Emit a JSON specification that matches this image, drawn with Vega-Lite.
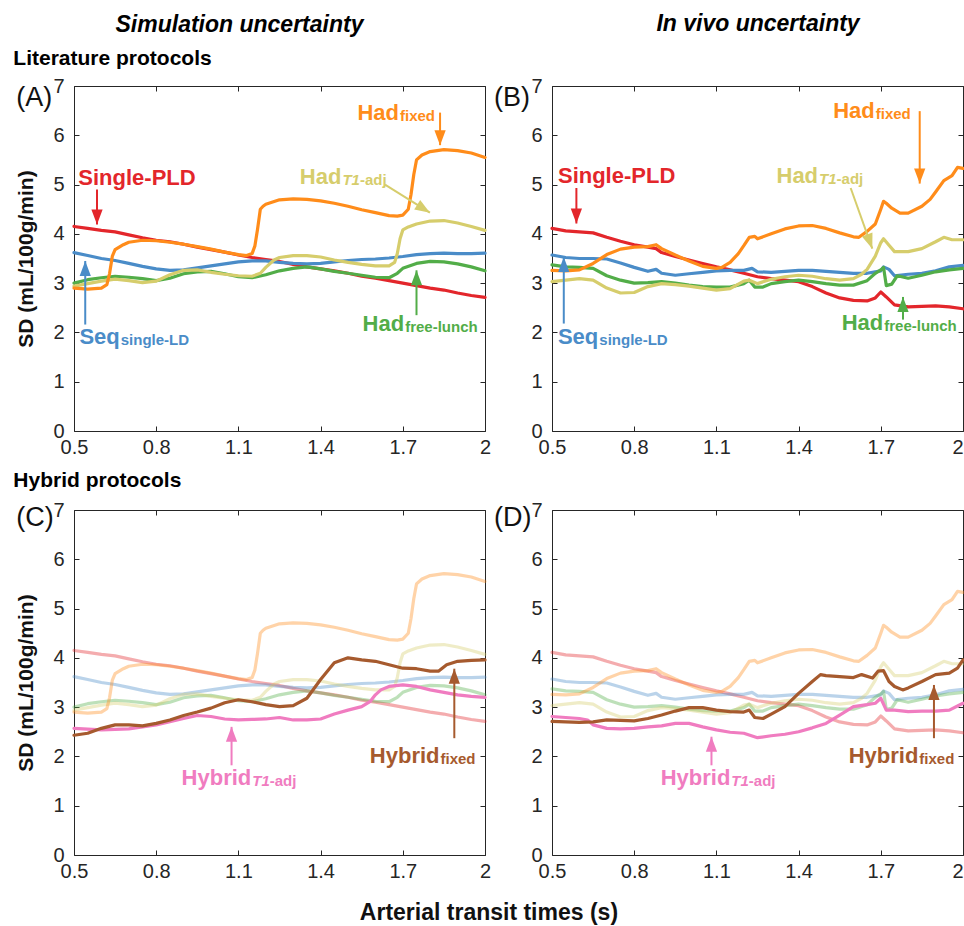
{
"$schema": "https://vega.github.io/schema/vega-lite/v6.json",
"background": "white",
"padding": {"left": 12, "top": 12, "right": 2, "bottom": 2},
"title": {"text": "Arterial transit times (s)", "orient": "bottom", "anchor": "middle", "fontSize": 23, "fontWeight": "bold", "font": "Liberation Sans", "color": "#111111", "offset": 20},
"config": {
  "font": "Liberation Sans",
  "view": {"stroke": "#262626", "strokeWidth": 1},
  "axis": {"grid": false, "domain": false, "tickSize": -5, "tickColor": "#262626", "tickWidth": 1, "labelColor": "#262626", "labelFontSize": 20, "labelFont": "Liberation Sans", "titleFont": "Liberation Sans", "titleFontSize": 21, "titleFontWeight": "bold", "titleColor": "#111111"}
},
"datasets": {
"curves": [
{"panel":"A","series":"Single-PLD","t":0.5,"v":4.15},{"panel":"A","series":"Single-PLD","t":0.55,"v":4.11},{"panel":"A","series":"Single-PLD","t":0.6,"v":4.07},{"panel":"A","series":"Single-PLD","t":0.65,"v":4.04},{"panel":"A","series":"Single-PLD","t":0.7,"v":3.98},{"panel":"A","series":"Single-PLD","t":0.75,"v":3.92},{"panel":"A","series":"Single-PLD","t":0.8,"v":3.87},{"panel":"A","series":"Single-PLD","t":0.85,"v":3.84},{"panel":"A","series":"Single-PLD","t":0.9,"v":3.79},{"panel":"A","series":"Single-PLD","t":0.95,"v":3.73},{"panel":"A","series":"Single-PLD","t":1.0,"v":3.68},{"panel":"A","series":"Single-PLD","t":1.05,"v":3.63},{"panel":"A","series":"Single-PLD","t":1.1,"v":3.57},{"panel":"A","series":"Single-PLD","t":1.15,"v":3.52},{"panel":"A","series":"Single-PLD","t":1.2,"v":3.48},{"panel":"A","series":"Single-PLD","t":1.25,"v":3.44},{"panel":"A","series":"Single-PLD","t":1.3,"v":3.38},{"panel":"A","series":"Single-PLD","t":1.35,"v":3.33},{"panel":"A","series":"Single-PLD","t":1.4,"v":3.29},{"panel":"A","series":"Single-PLD","t":1.45,"v":3.25},{"panel":"A","series":"Single-PLD","t":1.5,"v":3.2},{"panel":"A","series":"Single-PLD","t":1.55,"v":3.14},{"panel":"A","series":"Single-PLD","t":1.6,"v":3.1},{"panel":"A","series":"Single-PLD","t":1.65,"v":3.05},{"panel":"A","series":"Single-PLD","t":1.7,"v":3.0},{"panel":"A","series":"Single-PLD","t":1.75,"v":2.95},{"panel":"A","series":"Single-PLD","t":1.8,"v":2.9},{"panel":"A","series":"Single-PLD","t":1.85,"v":2.86},{"panel":"A","series":"Single-PLD","t":1.9,"v":2.8},{"panel":"A","series":"Single-PLD","t":1.95,"v":2.75},{"panel":"A","series":"Single-PLD","t":2.0,"v":2.71},
{"panel":"A","series":"Seq","t":0.5,"v":3.62},{"panel":"A","series":"Seq","t":0.55,"v":3.56},{"panel":"A","series":"Seq","t":0.6,"v":3.5},{"panel":"A","series":"Seq","t":0.65,"v":3.46},{"panel":"A","series":"Seq","t":0.7,"v":3.4},{"panel":"A","series":"Seq","t":0.75,"v":3.34},{"panel":"A","series":"Seq","t":0.8,"v":3.29},{"panel":"A","series":"Seq","t":0.85,"v":3.26},{"panel":"A","series":"Seq","t":0.9,"v":3.27},{"panel":"A","series":"Seq","t":0.95,"v":3.31},{"panel":"A","series":"Seq","t":1.0,"v":3.35},{"panel":"A","series":"Seq","t":1.05,"v":3.39},{"panel":"A","series":"Seq","t":1.1,"v":3.43},{"panel":"A","series":"Seq","t":1.15,"v":3.45},{"panel":"A","series":"Seq","t":1.2,"v":3.45},{"panel":"A","series":"Seq","t":1.25,"v":3.42},{"panel":"A","series":"Seq","t":1.3,"v":3.4},{"panel":"A","series":"Seq","t":1.35,"v":3.39},{"panel":"A","series":"Seq","t":1.4,"v":3.4},{"panel":"A","series":"Seq","t":1.45,"v":3.43},{"panel":"A","series":"Seq","t":1.5,"v":3.46},{"panel":"A","series":"Seq","t":1.55,"v":3.48},{"panel":"A","series":"Seq","t":1.6,"v":3.49},{"panel":"A","series":"Seq","t":1.65,"v":3.51},{"panel":"A","series":"Seq","t":1.7,"v":3.54},{"panel":"A","series":"Seq","t":1.75,"v":3.58},{"panel":"A","series":"Seq","t":1.8,"v":3.6},{"panel":"A","series":"Seq","t":1.85,"v":3.61},{"panel":"A","series":"Seq","t":1.9,"v":3.6},{"panel":"A","series":"Seq","t":1.95,"v":3.6},{"panel":"A","series":"Seq","t":2.0,"v":3.61},
{"panel":"A","series":"Had_free","t":0.5,"v":3.0},{"panel":"A","series":"Had_free","t":0.55,"v":3.07},{"panel":"A","series":"Had_free","t":0.6,"v":3.11},{"panel":"A","series":"Had_free","t":0.65,"v":3.14},{"panel":"A","series":"Had_free","t":0.7,"v":3.12},{"panel":"A","series":"Had_free","t":0.75,"v":3.09},{"panel":"A","series":"Had_free","t":0.8,"v":3.05},{"panel":"A","series":"Had_free","t":0.85,"v":3.1},{"panel":"A","series":"Had_free","t":0.9,"v":3.19},{"panel":"A","series":"Had_free","t":0.95,"v":3.23},{"panel":"A","series":"Had_free","t":1.0,"v":3.24},{"panel":"A","series":"Had_free","t":1.05,"v":3.19},{"panel":"A","series":"Had_free","t":1.1,"v":3.13},{"panel":"A","series":"Had_free","t":1.15,"v":3.11},{"panel":"A","series":"Had_free","t":1.2,"v":3.17},{"panel":"A","series":"Had_free","t":1.25,"v":3.25},{"panel":"A","series":"Had_free","t":1.3,"v":3.3},{"panel":"A","series":"Had_free","t":1.35,"v":3.33},{"panel":"A","series":"Had_free","t":1.4,"v":3.29},{"panel":"A","series":"Had_free","t":1.45,"v":3.24},{"panel":"A","series":"Had_free","t":1.5,"v":3.2},{"panel":"A","series":"Had_free","t":1.55,"v":3.16},{"panel":"A","series":"Had_free","t":1.6,"v":3.12},{"panel":"A","series":"Had_free","t":1.65,"v":3.11},{"panel":"A","series":"Had_free","t":1.68,"v":3.2},{"panel":"A","series":"Had_free","t":1.7,"v":3.3},{"panel":"A","series":"Had_free","t":1.75,"v":3.4},{"panel":"A","series":"Had_free","t":1.8,"v":3.44},{"panel":"A","series":"Had_free","t":1.85,"v":3.43},{"panel":"A","series":"Had_free","t":1.9,"v":3.39},{"panel":"A","series":"Had_free","t":1.95,"v":3.33},{"panel":"A","series":"Had_free","t":2.0,"v":3.25},
{"panel":"A","series":"Had_T1","t":0.5,"v":2.94},{"panel":"A","series":"Had_T1","t":0.55,"v":2.99},{"panel":"A","series":"Had_T1","t":0.6,"v":3.04},{"panel":"A","series":"Had_T1","t":0.65,"v":3.08},{"panel":"A","series":"Had_T1","t":0.7,"v":3.05},{"panel":"A","series":"Had_T1","t":0.75,"v":3.01},{"panel":"A","series":"Had_T1","t":0.8,"v":3.04},{"panel":"A","series":"Had_T1","t":0.85,"v":3.17},{"panel":"A","series":"Had_T1","t":0.9,"v":3.26},{"panel":"A","series":"Had_T1","t":0.95,"v":3.27},{"panel":"A","series":"Had_T1","t":1.0,"v":3.22},{"panel":"A","series":"Had_T1","t":1.05,"v":3.18},{"panel":"A","series":"Had_T1","t":1.1,"v":3.15},{"panel":"A","series":"Had_T1","t":1.15,"v":3.14},{"panel":"A","series":"Had_T1","t":1.18,"v":3.2},{"panel":"A","series":"Had_T1","t":1.2,"v":3.32},{"panel":"A","series":"Had_T1","t":1.23,"v":3.47},{"panel":"A","series":"Had_T1","t":1.25,"v":3.52},{"panel":"A","series":"Had_T1","t":1.3,"v":3.56},{"panel":"A","series":"Had_T1","t":1.35,"v":3.56},{"panel":"A","series":"Had_T1","t":1.4,"v":3.53},{"panel":"A","series":"Had_T1","t":1.45,"v":3.47},{"panel":"A","series":"Had_T1","t":1.5,"v":3.42},{"panel":"A","series":"Had_T1","t":1.55,"v":3.38},{"panel":"A","series":"Had_T1","t":1.6,"v":3.35},{"panel":"A","series":"Had_T1","t":1.65,"v":3.35},{"panel":"A","series":"Had_T1","t":1.67,"v":3.42},{"panel":"A","series":"Had_T1","t":1.68,"v":3.6},{"panel":"A","series":"Had_T1","t":1.69,"v":3.9},{"panel":"A","series":"Had_T1","t":1.7,"v":4.08},{"panel":"A","series":"Had_T1","t":1.72,"v":4.14},{"panel":"A","series":"Had_T1","t":1.75,"v":4.2},{"panel":"A","series":"Had_T1","t":1.8,"v":4.26},{"panel":"A","series":"Had_T1","t":1.85,"v":4.27},{"panel":"A","series":"Had_T1","t":1.9,"v":4.22},{"panel":"A","series":"Had_T1","t":1.95,"v":4.15},{"panel":"A","series":"Had_T1","t":2.0,"v":4.07},
{"panel":"A","series":"Had_fixed","t":0.5,"v":2.9},{"panel":"A","series":"Had_fixed","t":0.55,"v":2.88},{"panel":"A","series":"Had_fixed","t":0.6,"v":2.9},{"panel":"A","series":"Had_fixed","t":0.62,"v":2.97},{"panel":"A","series":"Had_fixed","t":0.63,"v":3.2},{"panel":"A","series":"Had_fixed","t":0.64,"v":3.55},{"panel":"A","series":"Had_fixed","t":0.65,"v":3.68},{"panel":"A","series":"Had_fixed","t":0.68,"v":3.78},{"panel":"A","series":"Had_fixed","t":0.7,"v":3.83},{"panel":"A","series":"Had_fixed","t":0.75,"v":3.87},{"panel":"A","series":"Had_fixed","t":0.8,"v":3.86},{"panel":"A","series":"Had_fixed","t":0.85,"v":3.83},{"panel":"A","series":"Had_fixed","t":0.9,"v":3.79},{"panel":"A","series":"Had_fixed","t":0.95,"v":3.74},{"panel":"A","series":"Had_fixed","t":1.0,"v":3.69},{"panel":"A","series":"Had_fixed","t":1.05,"v":3.63},{"panel":"A","series":"Had_fixed","t":1.1,"v":3.58},{"panel":"A","series":"Had_fixed","t":1.13,"v":3.56},{"panel":"A","series":"Had_fixed","t":1.15,"v":3.6},{"panel":"A","series":"Had_fixed","t":1.16,"v":3.75},{"panel":"A","series":"Had_fixed","t":1.17,"v":4.1},{"panel":"A","series":"Had_fixed","t":1.18,"v":4.5},{"panel":"A","series":"Had_fixed","t":1.19,"v":4.56},{"panel":"A","series":"Had_fixed","t":1.2,"v":4.6},{"panel":"A","series":"Had_fixed","t":1.25,"v":4.69},{"panel":"A","series":"Had_fixed","t":1.3,"v":4.71},{"panel":"A","series":"Had_fixed","t":1.35,"v":4.7},{"panel":"A","series":"Had_fixed","t":1.4,"v":4.67},{"panel":"A","series":"Had_fixed","t":1.45,"v":4.62},{"panel":"A","series":"Had_fixed","t":1.5,"v":4.56},{"panel":"A","series":"Had_fixed","t":1.55,"v":4.49},{"panel":"A","series":"Had_fixed","t":1.6,"v":4.43},{"panel":"A","series":"Had_fixed","t":1.65,"v":4.37},{"panel":"A","series":"Had_fixed","t":1.68,"v":4.36},{"panel":"A","series":"Had_fixed","t":1.7,"v":4.38},{"panel":"A","series":"Had_fixed","t":1.72,"v":4.5},{"panel":"A","series":"Had_fixed","t":1.73,"v":4.8},{"panel":"A","series":"Had_fixed","t":1.74,"v":5.2},{"panel":"A","series":"Had_fixed","t":1.75,"v":5.5},{"panel":"A","series":"Had_fixed","t":1.77,"v":5.6},{"panel":"A","series":"Had_fixed","t":1.8,"v":5.67},{"panel":"A","series":"Had_fixed","t":1.85,"v":5.71},{"panel":"A","series":"Had_fixed","t":1.9,"v":5.69},{"panel":"A","series":"Had_fixed","t":1.95,"v":5.64},{"panel":"A","series":"Had_fixed","t":2.0,"v":5.55},
{"panel":"B","series":"Single-PLD","t":0.5,"v":4.11},{"panel":"B","series":"Single-PLD","t":0.55,"v":4.06},{"panel":"B","series":"Single-PLD","t":0.6,"v":4.04},{"panel":"B","series":"Single-PLD","t":0.65,"v":4.02},{"panel":"B","series":"Single-PLD","t":0.7,"v":3.93},{"panel":"B","series":"Single-PLD","t":0.75,"v":3.85},{"panel":"B","series":"Single-PLD","t":0.8,"v":3.78},{"panel":"B","series":"Single-PLD","t":0.85,"v":3.73},{"panel":"B","series":"Single-PLD","t":0.88,"v":3.7},{"panel":"B","series":"Single-PLD","t":0.9,"v":3.62},{"panel":"B","series":"Single-PLD","t":0.95,"v":3.54},{"panel":"B","series":"Single-PLD","t":1.0,"v":3.47},{"panel":"B","series":"Single-PLD","t":1.05,"v":3.4},{"panel":"B","series":"Single-PLD","t":1.1,"v":3.33},{"panel":"B","series":"Single-PLD","t":1.15,"v":3.27},{"panel":"B","series":"Single-PLD","t":1.2,"v":3.2},{"panel":"B","series":"Single-PLD","t":1.25,"v":3.13},{"panel":"B","series":"Single-PLD","t":1.3,"v":3.09},{"panel":"B","series":"Single-PLD","t":1.35,"v":3.06},{"panel":"B","series":"Single-PLD","t":1.4,"v":3.03},{"panel":"B","series":"Single-PLD","t":1.45,"v":2.93},{"panel":"B","series":"Single-PLD","t":1.5,"v":2.8},{"panel":"B","series":"Single-PLD","t":1.55,"v":2.7},{"panel":"B","series":"Single-PLD","t":1.6,"v":2.65},{"panel":"B","series":"Single-PLD","t":1.65,"v":2.64},{"panel":"B","series":"Single-PLD","t":1.68,"v":2.7},{"panel":"B","series":"Single-PLD","t":1.7,"v":2.82},{"panel":"B","series":"Single-PLD","t":1.72,"v":2.72},{"panel":"B","series":"Single-PLD","t":1.75,"v":2.56},{"panel":"B","series":"Single-PLD","t":1.8,"v":2.52},{"panel":"B","series":"Single-PLD","t":1.85,"v":2.53},{"panel":"B","series":"Single-PLD","t":1.9,"v":2.54},{"panel":"B","series":"Single-PLD","t":1.95,"v":2.52},{"panel":"B","series":"Single-PLD","t":2.0,"v":2.48},
{"panel":"B","series":"Seq","t":0.5,"v":3.57},{"panel":"B","series":"Seq","t":0.55,"v":3.52},{"panel":"B","series":"Seq","t":0.6,"v":3.5},{"panel":"B","series":"Seq","t":0.65,"v":3.5},{"panel":"B","series":"Seq","t":0.7,"v":3.49},{"panel":"B","series":"Seq","t":0.75,"v":3.41},{"panel":"B","series":"Seq","t":0.8,"v":3.32},{"panel":"B","series":"Seq","t":0.85,"v":3.24},{"panel":"B","series":"Seq","t":0.88,"v":3.28},{"panel":"B","series":"Seq","t":0.9,"v":3.2},{"panel":"B","series":"Seq","t":0.95,"v":3.16},{"panel":"B","series":"Seq","t":1.0,"v":3.19},{"panel":"B","series":"Seq","t":1.05,"v":3.22},{"panel":"B","series":"Seq","t":1.1,"v":3.25},{"panel":"B","series":"Seq","t":1.15,"v":3.26},{"panel":"B","series":"Seq","t":1.2,"v":3.26},{"panel":"B","series":"Seq","t":1.23,"v":3.3},{"panel":"B","series":"Seq","t":1.25,"v":3.23},{"panel":"B","series":"Seq","t":1.3,"v":3.22},{"panel":"B","series":"Seq","t":1.35,"v":3.24},{"panel":"B","series":"Seq","t":1.4,"v":3.26},{"panel":"B","series":"Seq","t":1.45,"v":3.26},{"panel":"B","series":"Seq","t":1.5,"v":3.24},{"panel":"B","series":"Seq","t":1.55,"v":3.22},{"panel":"B","series":"Seq","t":1.6,"v":3.2},{"panel":"B","series":"Seq","t":1.65,"v":3.2},{"panel":"B","series":"Seq","t":1.7,"v":3.25},{"panel":"B","series":"Seq","t":1.71,"v":3.33},{"panel":"B","series":"Seq","t":1.73,"v":3.28},{"panel":"B","series":"Seq","t":1.75,"v":3.15},{"panel":"B","series":"Seq","t":1.8,"v":3.18},{"panel":"B","series":"Seq","t":1.85,"v":3.2},{"panel":"B","series":"Seq","t":1.9,"v":3.25},{"panel":"B","series":"Seq","t":1.95,"v":3.33},{"panel":"B","series":"Seq","t":2.0,"v":3.36},
{"panel":"B","series":"Had_free","t":0.5,"v":3.37},{"panel":"B","series":"Had_free","t":0.55,"v":3.33},{"panel":"B","series":"Had_free","t":0.6,"v":3.32},{"panel":"B","series":"Had_free","t":0.65,"v":3.3},{"panel":"B","series":"Had_free","t":0.7,"v":3.15},{"panel":"B","series":"Had_free","t":0.75,"v":3.06},{"panel":"B","series":"Had_free","t":0.8,"v":3.0},{"panel":"B","series":"Had_free","t":0.85,"v":3.01},{"panel":"B","series":"Had_free","t":0.9,"v":3.03},{"panel":"B","series":"Had_free","t":0.95,"v":3.0},{"panel":"B","series":"Had_free","t":1.0,"v":2.96},{"panel":"B","series":"Had_free","t":1.05,"v":2.93},{"panel":"B","series":"Had_free","t":1.1,"v":2.92},{"panel":"B","series":"Had_free","t":1.15,"v":2.92},{"panel":"B","series":"Had_free","t":1.2,"v":2.99},{"panel":"B","series":"Had_free","t":1.22,"v":3.06},{"panel":"B","series":"Had_free","t":1.24,"v":2.92},{"panel":"B","series":"Had_free","t":1.27,"v":2.92},{"panel":"B","series":"Had_free","t":1.3,"v":2.99},{"panel":"B","series":"Had_free","t":1.35,"v":3.03},{"panel":"B","series":"Had_free","t":1.4,"v":3.06},{"panel":"B","series":"Had_free","t":1.45,"v":3.03},{"panel":"B","series":"Had_free","t":1.5,"v":2.99},{"panel":"B","series":"Had_free","t":1.55,"v":2.96},{"panel":"B","series":"Had_free","t":1.6,"v":2.96},{"panel":"B","series":"Had_free","t":1.65,"v":3.05},{"panel":"B","series":"Had_free","t":1.68,"v":3.2},{"panel":"B","series":"Had_free","t":1.7,"v":3.27},{"panel":"B","series":"Had_free","t":1.71,"v":3.32},{"panel":"B","series":"Had_free","t":1.72,"v":2.95},{"panel":"B","series":"Had_free","t":1.74,"v":2.98},{"panel":"B","series":"Had_free","t":1.76,"v":3.15},{"panel":"B","series":"Had_free","t":1.8,"v":3.1},{"panel":"B","series":"Had_free","t":1.85,"v":3.16},{"panel":"B","series":"Had_free","t":1.9,"v":3.23},{"panel":"B","series":"Had_free","t":1.95,"v":3.27},{"panel":"B","series":"Had_free","t":2.0,"v":3.3},
{"panel":"B","series":"Had_T1","t":0.5,"v":3.03},{"panel":"B","series":"Had_T1","t":0.55,"v":3.06},{"panel":"B","series":"Had_T1","t":0.6,"v":3.09},{"panel":"B","series":"Had_T1","t":0.65,"v":3.06},{"panel":"B","series":"Had_T1","t":0.7,"v":2.9},{"panel":"B","series":"Had_T1","t":0.75,"v":2.8},{"panel":"B","series":"Had_T1","t":0.8,"v":2.81},{"panel":"B","series":"Had_T1","t":0.85,"v":2.93},{"panel":"B","series":"Had_T1","t":0.9,"v":2.99},{"panel":"B","series":"Had_T1","t":0.95,"v":2.97},{"panel":"B","series":"Had_T1","t":1.0,"v":2.94},{"panel":"B","series":"Had_T1","t":1.05,"v":2.9},{"panel":"B","series":"Had_T1","t":1.1,"v":2.86},{"panel":"B","series":"Had_T1","t":1.15,"v":2.89},{"panel":"B","series":"Had_T1","t":1.2,"v":3.04},{"panel":"B","series":"Had_T1","t":1.22,"v":3.06},{"panel":"B","series":"Had_T1","t":1.25,"v":2.99},{"panel":"B","series":"Had_T1","t":1.3,"v":3.08},{"panel":"B","series":"Had_T1","t":1.35,"v":3.13},{"panel":"B","series":"Had_T1","t":1.4,"v":3.16},{"panel":"B","series":"Had_T1","t":1.45,"v":3.14},{"panel":"B","series":"Had_T1","t":1.5,"v":3.09},{"panel":"B","series":"Had_T1","t":1.55,"v":3.06},{"panel":"B","series":"Had_T1","t":1.6,"v":3.09},{"panel":"B","series":"Had_T1","t":1.63,"v":3.18},{"panel":"B","series":"Had_T1","t":1.65,"v":3.28},{"panel":"B","series":"Had_T1","t":1.68,"v":3.55},{"panel":"B","series":"Had_T1","t":1.7,"v":3.82},{"panel":"B","series":"Had_T1","t":1.71,"v":3.9},{"panel":"B","series":"Had_T1","t":1.73,"v":3.77},{"panel":"B","series":"Had_T1","t":1.75,"v":3.64},{"panel":"B","series":"Had_T1","t":1.8,"v":3.64},{"panel":"B","series":"Had_T1","t":1.85,"v":3.7},{"panel":"B","series":"Had_T1","t":1.9,"v":3.84},{"panel":"B","series":"Had_T1","t":1.93,"v":3.93},{"panel":"B","series":"Had_T1","t":1.96,"v":3.88},{"panel":"B","series":"Had_T1","t":2.0,"v":3.88},
{"panel":"B","series":"Had_fixed","t":0.5,"v":3.26},{"panel":"B","series":"Had_fixed","t":0.55,"v":3.25},{"panel":"B","series":"Had_fixed","t":0.6,"v":3.27},{"panel":"B","series":"Had_fixed","t":0.65,"v":3.4},{"panel":"B","series":"Had_fixed","t":0.7,"v":3.58},{"panel":"B","series":"Had_fixed","t":0.75,"v":3.69},{"panel":"B","series":"Had_fixed","t":0.8,"v":3.73},{"panel":"B","series":"Had_fixed","t":0.85,"v":3.74},{"panel":"B","series":"Had_fixed","t":0.88,"v":3.78},{"panel":"B","series":"Had_fixed","t":0.9,"v":3.7},{"panel":"B","series":"Had_fixed","t":0.95,"v":3.57},{"panel":"B","series":"Had_fixed","t":1.0,"v":3.45},{"panel":"B","series":"Had_fixed","t":1.05,"v":3.34},{"panel":"B","series":"Had_fixed","t":1.1,"v":3.3},{"panel":"B","series":"Had_fixed","t":1.12,"v":3.32},{"panel":"B","series":"Had_fixed","t":1.15,"v":3.42},{"panel":"B","series":"Had_fixed","t":1.18,"v":3.6},{"panel":"B","series":"Had_fixed","t":1.2,"v":3.76},{"panel":"B","series":"Had_fixed","t":1.22,"v":3.93},{"panel":"B","series":"Had_fixed","t":1.24,"v":3.95},{"panel":"B","series":"Had_fixed","t":1.25,"v":3.9},{"panel":"B","series":"Had_fixed","t":1.3,"v":4.0},{"panel":"B","series":"Had_fixed","t":1.35,"v":4.1},{"panel":"B","series":"Had_fixed","t":1.4,"v":4.16},{"panel":"B","series":"Had_fixed","t":1.45,"v":4.17},{"panel":"B","series":"Had_fixed","t":1.5,"v":4.11},{"panel":"B","series":"Had_fixed","t":1.55,"v":4.02},{"panel":"B","series":"Had_fixed","t":1.6,"v":3.94},{"panel":"B","series":"Had_fixed","t":1.62,"v":3.93},{"panel":"B","series":"Had_fixed","t":1.65,"v":4.05},{"panel":"B","series":"Had_fixed","t":1.68,"v":4.2},{"panel":"B","series":"Had_fixed","t":1.7,"v":4.5},{"panel":"B","series":"Had_fixed","t":1.71,"v":4.66},{"panel":"B","series":"Had_fixed","t":1.72,"v":4.62},{"panel":"B","series":"Had_fixed","t":1.74,"v":4.52},{"panel":"B","series":"Had_fixed","t":1.77,"v":4.42},{"panel":"B","series":"Had_fixed","t":1.8,"v":4.42},{"panel":"B","series":"Had_fixed","t":1.85,"v":4.56},{"panel":"B","series":"Had_fixed","t":1.88,"v":4.7},{"panel":"B","series":"Had_fixed","t":1.9,"v":4.85},{"panel":"B","series":"Had_fixed","t":1.93,"v":5.08},{"panel":"B","series":"Had_fixed","t":1.96,"v":5.18},{"panel":"B","series":"Had_fixed","t":1.98,"v":5.35},{"panel":"B","series":"Had_fixed","t":2.0,"v":5.33},
{"panel":"C","series":"Hyb_T1","t":0.5,"v":2.57},{"panel":"C","series":"Hyb_T1","t":0.6,"v":2.54},{"panel":"C","series":"Hyb_T1","t":0.7,"v":2.56},{"panel":"C","series":"Hyb_T1","t":0.8,"v":2.64},{"panel":"C","series":"Hyb_T1","t":0.9,"v":2.77},{"panel":"C","series":"Hyb_T1","t":0.95,"v":2.83},{"panel":"C","series":"Hyb_T1","t":1.0,"v":2.81},{"panel":"C","series":"Hyb_T1","t":1.05,"v":2.76},{"panel":"C","series":"Hyb_T1","t":1.1,"v":2.74},{"panel":"C","series":"Hyb_T1","t":1.15,"v":2.75},{"panel":"C","series":"Hyb_T1","t":1.2,"v":2.76},{"panel":"C","series":"Hyb_T1","t":1.25,"v":2.79},{"panel":"C","series":"Hyb_T1","t":1.3,"v":2.74},{"panel":"C","series":"Hyb_T1","t":1.35,"v":2.74},{"panel":"C","series":"Hyb_T1","t":1.4,"v":2.76},{"panel":"C","series":"Hyb_T1","t":1.45,"v":2.86},{"panel":"C","series":"Hyb_T1","t":1.5,"v":2.94},{"panel":"C","series":"Hyb_T1","t":1.55,"v":3.01},{"panel":"C","series":"Hyb_T1","t":1.58,"v":3.11},{"panel":"C","series":"Hyb_T1","t":1.6,"v":3.25},{"panel":"C","series":"Hyb_T1","t":1.62,"v":3.35},{"panel":"C","series":"Hyb_T1","t":1.65,"v":3.42},{"panel":"C","series":"Hyb_T1","t":1.7,"v":3.45},{"panel":"C","series":"Hyb_T1","t":1.75,"v":3.42},{"panel":"C","series":"Hyb_T1","t":1.8,"v":3.35},{"panel":"C","series":"Hyb_T1","t":1.85,"v":3.3},{"panel":"C","series":"Hyb_T1","t":1.9,"v":3.25},{"panel":"C","series":"Hyb_T1","t":1.95,"v":3.22},{"panel":"C","series":"Hyb_T1","t":2.0,"v":3.2},
{"panel":"C","series":"Hyb_fixed","t":0.5,"v":2.43},{"panel":"C","series":"Hyb_fixed","t":0.55,"v":2.47},{"panel":"C","series":"Hyb_fixed","t":0.6,"v":2.57},{"panel":"C","series":"Hyb_fixed","t":0.65,"v":2.64},{"panel":"C","series":"Hyb_fixed","t":0.7,"v":2.64},{"panel":"C","series":"Hyb_fixed","t":0.75,"v":2.62},{"panel":"C","series":"Hyb_fixed","t":0.8,"v":2.67},{"panel":"C","series":"Hyb_fixed","t":0.85,"v":2.74},{"panel":"C","series":"Hyb_fixed","t":0.9,"v":2.83},{"panel":"C","series":"Hyb_fixed","t":0.95,"v":2.9},{"panel":"C","series":"Hyb_fixed","t":1.0,"v":2.98},{"panel":"C","series":"Hyb_fixed","t":1.05,"v":3.09},{"panel":"C","series":"Hyb_fixed","t":1.1,"v":3.15},{"panel":"C","series":"Hyb_fixed","t":1.15,"v":3.11},{"panel":"C","series":"Hyb_fixed","t":1.2,"v":3.05},{"panel":"C","series":"Hyb_fixed","t":1.25,"v":3.01},{"panel":"C","series":"Hyb_fixed","t":1.3,"v":3.03},{"panel":"C","series":"Hyb_fixed","t":1.35,"v":3.18},{"panel":"C","series":"Hyb_fixed","t":1.4,"v":3.56},{"panel":"C","series":"Hyb_fixed","t":1.45,"v":3.9},{"panel":"C","series":"Hyb_fixed","t":1.5,"v":4.0},{"panel":"C","series":"Hyb_fixed","t":1.55,"v":3.96},{"panel":"C","series":"Hyb_fixed","t":1.6,"v":3.93},{"panel":"C","series":"Hyb_fixed","t":1.65,"v":3.86},{"panel":"C","series":"Hyb_fixed","t":1.7,"v":3.79},{"panel":"C","series":"Hyb_fixed","t":1.75,"v":3.78},{"panel":"C","series":"Hyb_fixed","t":1.8,"v":3.73},{"panel":"C","series":"Hyb_fixed","t":1.83,"v":3.73},{"panel":"C","series":"Hyb_fixed","t":1.86,"v":3.86},{"panel":"C","series":"Hyb_fixed","t":1.9,"v":3.93},{"panel":"C","series":"Hyb_fixed","t":1.95,"v":3.95},{"panel":"C","series":"Hyb_fixed","t":2.0,"v":3.96},
{"panel":"D","series":"Hyb_T1","t":0.5,"v":2.81},{"panel":"D","series":"Hyb_T1","t":0.55,"v":2.79},{"panel":"D","series":"Hyb_T1","t":0.6,"v":2.77},{"panel":"D","series":"Hyb_T1","t":0.63,"v":2.74},{"panel":"D","series":"Hyb_T1","t":0.65,"v":2.64},{"panel":"D","series":"Hyb_T1","t":0.7,"v":2.57},{"panel":"D","series":"Hyb_T1","t":0.75,"v":2.56},{"panel":"D","series":"Hyb_T1","t":0.8,"v":2.57},{"panel":"D","series":"Hyb_T1","t":0.85,"v":2.6},{"panel":"D","series":"Hyb_T1","t":0.9,"v":2.62},{"panel":"D","series":"Hyb_T1","t":0.95,"v":2.67},{"panel":"D","series":"Hyb_T1","t":1.0,"v":2.67},{"panel":"D","series":"Hyb_T1","t":1.05,"v":2.6},{"panel":"D","series":"Hyb_T1","t":1.1,"v":2.54},{"panel":"D","series":"Hyb_T1","t":1.15,"v":2.49},{"panel":"D","series":"Hyb_T1","t":1.2,"v":2.47},{"panel":"D","series":"Hyb_T1","t":1.25,"v":2.38},{"panel":"D","series":"Hyb_T1","t":1.3,"v":2.42},{"panel":"D","series":"Hyb_T1","t":1.35,"v":2.45},{"panel":"D","series":"Hyb_T1","t":1.4,"v":2.5},{"panel":"D","series":"Hyb_T1","t":1.45,"v":2.58},{"panel":"D","series":"Hyb_T1","t":1.5,"v":2.67},{"panel":"D","series":"Hyb_T1","t":1.55,"v":2.84},{"panel":"D","series":"Hyb_T1","t":1.6,"v":3.01},{"panel":"D","series":"Hyb_T1","t":1.65,"v":3.05},{"panel":"D","series":"Hyb_T1","t":1.68,"v":3.08},{"panel":"D","series":"Hyb_T1","t":1.7,"v":3.18},{"panel":"D","series":"Hyb_T1","t":1.72,"v":2.94},{"panel":"D","series":"Hyb_T1","t":1.75,"v":2.94},{"panel":"D","series":"Hyb_T1","t":1.8,"v":2.91},{"panel":"D","series":"Hyb_T1","t":1.85,"v":2.92},{"panel":"D","series":"Hyb_T1","t":1.9,"v":2.92},{"panel":"D","series":"Hyb_T1","t":1.95,"v":2.94},{"panel":"D","series":"Hyb_T1","t":2.0,"v":3.08},
{"panel":"D","series":"Hyb_fixed","t":0.5,"v":2.71},{"panel":"D","series":"Hyb_fixed","t":0.55,"v":2.7},{"panel":"D","series":"Hyb_fixed","t":0.6,"v":2.69},{"panel":"D","series":"Hyb_fixed","t":0.65,"v":2.7},{"panel":"D","series":"Hyb_fixed","t":0.7,"v":2.74},{"panel":"D","series":"Hyb_fixed","t":0.75,"v":2.73},{"panel":"D","series":"Hyb_fixed","t":0.8,"v":2.72},{"panel":"D","series":"Hyb_fixed","t":0.85,"v":2.77},{"panel":"D","series":"Hyb_fixed","t":0.9,"v":2.84},{"panel":"D","series":"Hyb_fixed","t":0.95,"v":2.92},{"panel":"D","series":"Hyb_fixed","t":1.0,"v":2.99},{"panel":"D","series":"Hyb_fixed","t":1.05,"v":2.99},{"panel":"D","series":"Hyb_fixed","t":1.1,"v":2.94},{"panel":"D","series":"Hyb_fixed","t":1.15,"v":2.91},{"panel":"D","series":"Hyb_fixed","t":1.2,"v":2.9},{"panel":"D","series":"Hyb_fixed","t":1.22,"v":2.94},{"panel":"D","series":"Hyb_fixed","t":1.24,"v":2.79},{"panel":"D","series":"Hyb_fixed","t":1.27,"v":2.77},{"panel":"D","series":"Hyb_fixed","t":1.3,"v":2.86},{"panel":"D","series":"Hyb_fixed","t":1.35,"v":3.01},{"panel":"D","series":"Hyb_fixed","t":1.4,"v":3.28},{"panel":"D","series":"Hyb_fixed","t":1.45,"v":3.52},{"panel":"D","series":"Hyb_fixed","t":1.48,"v":3.66},{"panel":"D","series":"Hyb_fixed","t":1.5,"v":3.64},{"panel":"D","series":"Hyb_fixed","t":1.55,"v":3.62},{"panel":"D","series":"Hyb_fixed","t":1.6,"v":3.6},{"panel":"D","series":"Hyb_fixed","t":1.63,"v":3.66},{"panel":"D","series":"Hyb_fixed","t":1.67,"v":3.59},{"panel":"D","series":"Hyb_fixed","t":1.69,"v":3.73},{"panel":"D","series":"Hyb_fixed","t":1.71,"v":3.74},{"panel":"D","series":"Hyb_fixed","t":1.73,"v":3.52},{"panel":"D","series":"Hyb_fixed","t":1.75,"v":3.42},{"panel":"D","series":"Hyb_fixed","t":1.78,"v":3.35},{"panel":"D","series":"Hyb_fixed","t":1.8,"v":3.39},{"panel":"D","series":"Hyb_fixed","t":1.85,"v":3.52},{"panel":"D","series":"Hyb_fixed","t":1.9,"v":3.66},{"panel":"D","series":"Hyb_fixed","t":1.95,"v":3.69},{"panel":"D","series":"Hyb_fixed","t":1.98,"v":3.79},{"panel":"D","series":"Hyb_fixed","t":2.0,"v":3.96}
],
"arrows": [
{"panel":"A","series":"Single-PLD","t1":0.584,"v1":4.9,"t2":0.584,"v2":4.19,"dir":"down"},
{"panel":"A","series":"Seq","t1":0.541,"v1":2.16,"t2":0.541,"v2":3.45,"dir":"up"},
{"panel":"A","series":"Had_fixed","t1":1.836,"v1":6.46,"t2":1.836,"v2":5.8,"dir":"down"},
{"panel":"A","series":"Had_T1","t1":1.635,"v1":5.0,"t2":1.799,"v2":4.43,"dir":"diag"},
{"panel":"A","series":"Had_free","t1":1.75,"v1":2.35,"t2":1.75,"v2":3.26,"dir":"up"},
{"panel":"B","series":"Single-PLD","t1":0.589,"v1":4.93,"t2":0.589,"v2":4.21,"dir":"down"},
{"panel":"B","series":"Seq","t1":0.543,"v1":2.18,"t2":0.543,"v2":3.53,"dir":"up"},
{"panel":"B","series":"Had_fixed","t1":1.842,"v1":6.49,"t2":1.842,"v2":5.02,"dir":"down"},
{"panel":"B","series":"Had_T1","t1":1.59,"v1":4.93,"t2":1.669,"v2":3.7,"dir":"diag"},
{"panel":"B","series":"Had_free","t1":1.781,"v1":2.26,"t2":1.781,"v2":2.72,"dir":"up"},
{"panel":"C","series":"Hyb_T1","t1":1.075,"v1":1.82,"t2":1.075,"v2":2.6,"dir":"up"},
{"panel":"C","series":"Hyb_fixed","t1":1.888,"v1":2.37,"t2":1.888,"v2":3.78,"dir":"up"},
{"panel":"D","series":"Hyb_T1","t1":1.082,"v1":1.82,"t2":1.082,"v2":2.4,"dir":"up"},
{"panel":"D","series":"Hyb_fixed","t1":1.894,"v1":2.37,"t2":1.894,"v2":3.45,"dir":"up"}
],
"ann": [
{"panel":"A","series":"Single-PLD","t":0.944,"v":5.0,"main":"Single-PLD","subi":"","sub":""},
{"panel":"A","series":"Seq","t":0.667,"v":1.76,"main":"Seq","subi":"","sub":"single-LD"},
{"panel":"A","series":"Had_fixed","t":1.686,"v":6.32,"main":"Had","subi":"","sub":"fixed"},
{"panel":"A","series":"Had_T1","t":1.476,"v":5.02,"main":"Had","subi":"T1","sub":"-adj"},
{"panel":"A","series":"Had_free","t":1.705,"v":2.02,"main":"Had","subi":"","sub":"free-lunch"},
{"panel":"B","series":"Single-PLD","t":0.95,"v":5.03,"main":"Single-PLD","subi":"","sub":""},
{"panel":"B","series":"Seq","t":0.669,"v":1.77,"main":"Seq","subi":"","sub":"single-LD"},
{"panel":"B","series":"Had_fixed","t":1.678,"v":6.36,"main":"Had","subi":"","sub":"fixed"},
{"panel":"B","series":"Had_T1","t":1.471,"v":5.03,"main":"Had","subi":"T1","sub":"-adj"},
{"panel":"B","series":"Had_free","t":1.709,"v":2.04,"main":"Had","subi":"","sub":"free-lunch"},
{"panel":"C","series":"Hyb_T1","t":1.147,"v":1.42,"main":"Hybrid","subi":"T1","sub":"-adj"},
{"panel":"C","series":"Hyb_fixed","t":1.834,"v":1.86,"main":"Hybrid","subi":"","sub":"fixed"},
{"panel":"D","series":"Hyb_T1","t":1.151,"v":1.42,"main":"Hybrid","subi":"T1","sub":"-adj"},
{"panel":"D","series":"Hyb_fixed","t":1.837,"v":1.86,"main":"Hybrid","subi":"","sub":"fixed"}
]
},
"columns": 2,
"spacing": {"row": 79, "column": 67},
"bounds": "flush",
"concat": [
{
 "width": 411, "height": 345,
 "resolve": {"axis": {"x": "independent", "y": "independent"}},
 "layer": [
  {"data": {"name": "curves"}, "transform": [{"filter": "datum.panel == 'A'"}],
   "mark": {"type": "line", "strokeWidth": 3.2, "strokeJoin": "round", "strokeCap": "round"},
   "encoding": {
    "x": {"field": "t", "type": "quantitative", "scale": {"domain": [0.5, 2], "nice": false, "zero": false}, "axis": {"values": [0.5, 0.8, 1.1, 1.4, 1.7, 2], "format": ".1~f", "labelPadding": 11, "labelFlush": false, "labelOverlap": false, "title": null}},
    "y": {"field": "v", "type": "quantitative", "scale": {"domain": [0, 7], "nice": false, "zero": false}, "axis": {"values": [0, 1, 2, 3, 4, 5, 6, 7], "labelPadding": 15, "title": "SD (mL/100g/min)", "titlePadding": 16}},
    "color": {"field": "series", "type": "nominal", "scale": {"domain": ["Single-PLD", "Seq", "Had_free", "Had_T1", "Had_fixed", "Hyb_T1", "Hyb_fixed"], "range": ["#e3262b", "#4a8cc8", "#52ad48", "#d6cd6c", "#ff8c1a", "#f07cc0", "#a65a2e"]}, "legend": null}}},
  {"data": {"name": "arrows"}, "transform": [{"filter": "datum.panel == 'A'"}],
   "mark": {"type": "rule", "strokeWidth": 2},
   "encoding": {
    "x": {"field": "t1", "type": "quantitative", "scale": {"domain": [0.5, 2], "nice": false, "zero": false}, "axis": null},
    "y": {"field": "v1", "type": "quantitative", "scale": {"domain": [0, 7], "nice": false, "zero": false}, "axis": null},
    "x2": {"field": "t2"}, "y2": {"field": "v2"},
    "color": {"field": "series", "type": "nominal", "legend": null}}},
  {"data": {"name": "arrows"}, "transform": [{"filter": "datum.panel == 'A' && datum.dir == 'up'"}],
   "mark": {"type": "point", "shape": "M0,0L0.75,2L-0.75,2Z", "size": 225, "filled": true, "opacity": 1, "angle": 0},
   "encoding": {
    "x": {"field": "t2", "type": "quantitative", "scale": {"domain": [0.5, 2], "nice": false, "zero": false}, "axis": null},
    "y": {"field": "v2", "type": "quantitative", "scale": {"domain": [0, 7], "nice": false, "zero": false}, "axis": null},
    "color": {"field": "series", "type": "nominal", "legend": null}}},
  {"data": {"name": "arrows"}, "transform": [{"filter": "datum.panel == 'A' && datum.dir == 'down'"}],
   "mark": {"type": "point", "shape": "M0,0L0.75,2L-0.75,2Z", "size": 225, "filled": true, "opacity": 1, "angle": 180},
   "encoding": {
    "x": {"field": "t2", "type": "quantitative", "scale": {"domain": [0.5, 2], "nice": false, "zero": false}, "axis": null},
    "y": {"field": "v2", "type": "quantitative", "scale": {"domain": [0, 7], "nice": false, "zero": false}, "axis": null},
    "color": {"field": "series", "type": "nominal", "legend": null}}},
  {"data": {"name": "arrows"}, "transform": [{"filter": "datum.panel == 'A' && datum.dir == 'diag'"}],
   "mark": {"type": "point", "shape": "M0,0L0.75,2L-0.75,2Z", "size": 225, "filled": true, "opacity": 1, "angle": 122},
   "encoding": {
    "x": {"field": "t2", "type": "quantitative", "scale": {"domain": [0.5, 2], "nice": false, "zero": false}, "axis": null},
    "y": {"field": "v2", "type": "quantitative", "scale": {"domain": [0, 7], "nice": false, "zero": false}, "axis": null},
    "color": {"field": "series", "type": "nominal", "legend": null}}},
  {"data": {"name": "ann"}, "transform": [{"filter": "datum.panel == 'A'"}],
   "mark": {"type": "text", "align": "right", "baseline": "alphabetic", "fontSize": 22, "fontWeight": "bold"},
   "encoding": {
    "x": {"field": "t", "type": "quantitative", "scale": {"domain": [0.5, 2], "nice": false, "zero": false}, "axis": null},
    "y": {"field": "v", "type": "quantitative", "scale": {"domain": [0, 7], "nice": false, "zero": false}, "axis": null},
    "text": {"field": "main"},
    "color": {"field": "series", "type": "nominal", "legend": null}}},
  {"data": {"name": "ann"}, "transform": [{"filter": "datum.panel == 'A' && datum.subi == '' && datum.sub != ''"}],
   "mark": {"type": "text", "align": "left", "baseline": "alphabetic", "fontSize": 15, "fontWeight": "bold", "dx": 1, "dy": 1},
   "encoding": {
    "x": {"field": "t", "type": "quantitative", "scale": {"domain": [0.5, 2], "nice": false, "zero": false}, "axis": null},
    "y": {"field": "v", "type": "quantitative", "scale": {"domain": [0, 7], "nice": false, "zero": false}, "axis": null},
    "text": {"field": "sub"},
    "color": {"field": "series", "type": "nominal", "legend": null}}},
  {"data": {"name": "ann"}, "transform": [{"filter": "datum.panel == 'A' && datum.subi != ''"}],
   "mark": {"type": "text", "align": "left", "baseline": "alphabetic", "fontSize": 15, "fontWeight": "bold", "fontStyle": "italic", "dx": 1, "dy": 1},
   "encoding": {
    "x": {"field": "t", "type": "quantitative", "scale": {"domain": [0.5, 2], "nice": false, "zero": false}, "axis": null},
    "y": {"field": "v", "type": "quantitative", "scale": {"domain": [0, 7], "nice": false, "zero": false}, "axis": null},
    "text": {"field": "subi"},
    "color": {"field": "series", "type": "nominal", "legend": null}}},
  {"data": {"name": "ann"}, "transform": [{"filter": "datum.panel == 'A' && datum.subi != ''"}],
   "mark": {"type": "text", "align": "left", "baseline": "alphabetic", "fontSize": 15, "fontWeight": "bold", "dx": 18.5, "dy": 1},
   "encoding": {
    "x": {"field": "t", "type": "quantitative", "scale": {"domain": [0.5, 2], "nice": false, "zero": false}, "axis": null},
    "y": {"field": "v", "type": "quantitative", "scale": {"domain": [0, 7], "nice": false, "zero": false}, "axis": null},
    "text": {"field": "sub"},
    "color": {"field": "series", "type": "nominal", "legend": null}}},
  {"data": {"values": [{"t": 1.104, "v": 7, "label": "Simulation uncertainty"}]},
   "mark": {"type": "text", "align": "center", "baseline": "alphabetic", "dy": -54, "fontSize": 23, "fontWeight": "bold", "fontStyle": "italic", "color": "#000000"},
   "encoding": {
    "x": {"field": "t", "type": "quantitative", "scale": {"domain": [0.5, 2], "nice": false, "zero": false}, "axis": null},
    "y": {"field": "v", "type": "quantitative", "scale": {"domain": [0, 7], "nice": false, "zero": false}, "axis": null},
    "text": {"field": "label"}}},
  {"data": {"values": [{"t": 0.5, "v": 7, "label": "Literature protocols"}]},
   "mark": {"type": "text", "align": "left", "baseline": "alphabetic", "dx": -60.7, "dy": -21, "fontSize": 21, "fontWeight": "bold", "color": "#000000"},
   "encoding": {
    "x": {"field": "t", "type": "quantitative", "scale": {"domain": [0.5, 2], "nice": false, "zero": false}, "axis": null},
    "y": {"field": "v", "type": "quantitative", "scale": {"domain": [0, 7], "nice": false, "zero": false}, "axis": null},
    "text": {"field": "label"}}},
  {"data": {"values": [{"t": 0.5, "v": 7, "label": "(A)"}]},
   "mark": {"type": "text", "align": "left", "baseline": "alphabetic", "dx": -57.7, "dy": 20, "fontSize": 27, "color": "#111111"},
   "encoding": {
    "x": {"field": "t", "type": "quantitative", "scale": {"domain": [0.5, 2], "nice": false, "zero": false}, "axis": null},
    "y": {"field": "v", "type": "quantitative", "scale": {"domain": [0, 7], "nice": false, "zero": false}, "axis": null},
    "text": {"field": "label"}}},
  {"data": {"values": [{"t": 0.5, "v": 0}]},
   "mark": {"type": "point", "opacity": 0},
   "encoding": {
    "x": {"field": "t", "type": "quantitative", "scale": {"domain": [0.5, 2], "nice": false, "zero": false}, "axis": {"orient": "top", "labels": false, "title": null, "values": [0.5, 0.8, 1.1, 1.4, 1.7, 2]}},
    "y": {"field": "v", "type": "quantitative", "scale": {"domain": [0, 7], "nice": false, "zero": false}, "axis": {"orient": "right", "labels": false, "title": null, "values": [0, 1, 2, 3, 4, 5, 6, 7]}}}}
 ]
},
{
 "width": 411, "height": 345,
 "resolve": {"axis": {"x": "independent", "y": "independent"}},
 "layer": [
  {"data": {"name": "curves"}, "transform": [{"filter": "datum.panel == 'B'"}],
   "mark": {"type": "line", "strokeWidth": 3.2, "strokeJoin": "round", "strokeCap": "round"},
   "encoding": {
    "x": {"field": "t", "type": "quantitative", "scale": {"domain": [0.5, 2], "nice": false, "zero": false}, "axis": {"values": [0.5, 0.8, 1.1, 1.4, 1.7, 2], "format": ".1~f", "labelPadding": 11, "labelFlush": false, "labelOverlap": false, "labelAlign": {"condition": {"test": "datum.value == 2", "value": "right"}, "value": "center"}, "title": null}},
    "y": {"field": "v", "type": "quantitative", "scale": {"domain": [0, 7], "nice": false, "zero": false}, "axis": {"values": [0, 1, 2, 3, 4, 5, 6, 7], "labelPadding": 15, "title": null}},
    "color": {"field": "series", "type": "nominal", "scale": {"domain": ["Single-PLD", "Seq", "Had_free", "Had_T1", "Had_fixed", "Hyb_T1", "Hyb_fixed"], "range": ["#e3262b", "#4a8cc8", "#52ad48", "#d6cd6c", "#ff8c1a", "#f07cc0", "#a65a2e"]}, "legend": null}}},
  {"data": {"name": "arrows"}, "transform": [{"filter": "datum.panel == 'B'"}],
   "mark": {"type": "rule", "strokeWidth": 2},
   "encoding": {
    "x": {"field": "t1", "type": "quantitative", "scale": {"domain": [0.5, 2], "nice": false, "zero": false}, "axis": null},
    "y": {"field": "v1", "type": "quantitative", "scale": {"domain": [0, 7], "nice": false, "zero": false}, "axis": null},
    "x2": {"field": "t2"}, "y2": {"field": "v2"},
    "color": {"field": "series", "type": "nominal", "legend": null}}},
  {"data": {"name": "arrows"}, "transform": [{"filter": "datum.panel == 'B' && datum.dir == 'up'"}],
   "mark": {"type": "point", "shape": "M0,0L0.75,2L-0.75,2Z", "size": 225, "filled": true, "opacity": 1, "angle": 0},
   "encoding": {
    "x": {"field": "t2", "type": "quantitative", "scale": {"domain": [0.5, 2], "nice": false, "zero": false}, "axis": null},
    "y": {"field": "v2", "type": "quantitative", "scale": {"domain": [0, 7], "nice": false, "zero": false}, "axis": null},
    "color": {"field": "series", "type": "nominal", "legend": null}}},
  {"data": {"name": "arrows"}, "transform": [{"filter": "datum.panel == 'B' && datum.dir == 'down'"}],
   "mark": {"type": "point", "shape": "M0,0L0.75,2L-0.75,2Z", "size": 225, "filled": true, "opacity": 1, "angle": 180},
   "encoding": {
    "x": {"field": "t2", "type": "quantitative", "scale": {"domain": [0.5, 2], "nice": false, "zero": false}, "axis": null},
    "y": {"field": "v2", "type": "quantitative", "scale": {"domain": [0, 7], "nice": false, "zero": false}, "axis": null},
    "color": {"field": "series", "type": "nominal", "legend": null}}},
  {"data": {"name": "arrows"}, "transform": [{"filter": "datum.panel == 'B' && datum.dir == 'diag'"}],
   "mark": {"type": "point", "shape": "M0,0L0.75,2L-0.75,2Z", "size": 225, "filled": true, "opacity": 1, "angle": 160},
   "encoding": {
    "x": {"field": "t2", "type": "quantitative", "scale": {"domain": [0.5, 2], "nice": false, "zero": false}, "axis": null},
    "y": {"field": "v2", "type": "quantitative", "scale": {"domain": [0, 7], "nice": false, "zero": false}, "axis": null},
    "color": {"field": "series", "type": "nominal", "legend": null}}},
  {"data": {"name": "ann"}, "transform": [{"filter": "datum.panel == 'B'"}],
   "mark": {"type": "text", "align": "right", "baseline": "alphabetic", "fontSize": 22, "fontWeight": "bold"},
   "encoding": {
    "x": {"field": "t", "type": "quantitative", "scale": {"domain": [0.5, 2], "nice": false, "zero": false}, "axis": null},
    "y": {"field": "v", "type": "quantitative", "scale": {"domain": [0, 7], "nice": false, "zero": false}, "axis": null},
    "text": {"field": "main"},
    "color": {"field": "series", "type": "nominal", "legend": null}}},
  {"data": {"name": "ann"}, "transform": [{"filter": "datum.panel == 'B' && datum.subi == '' && datum.sub != ''"}],
   "mark": {"type": "text", "align": "left", "baseline": "alphabetic", "fontSize": 15, "fontWeight": "bold", "dx": 1, "dy": 1},
   "encoding": {
    "x": {"field": "t", "type": "quantitative", "scale": {"domain": [0.5, 2], "nice": false, "zero": false}, "axis": null},
    "y": {"field": "v", "type": "quantitative", "scale": {"domain": [0, 7], "nice": false, "zero": false}, "axis": null},
    "text": {"field": "sub"},
    "color": {"field": "series", "type": "nominal", "legend": null}}},
  {"data": {"name": "ann"}, "transform": [{"filter": "datum.panel == 'B' && datum.subi != ''"}],
   "mark": {"type": "text", "align": "left", "baseline": "alphabetic", "fontSize": 15, "fontWeight": "bold", "fontStyle": "italic", "dx": 1, "dy": 1},
   "encoding": {
    "x": {"field": "t", "type": "quantitative", "scale": {"domain": [0.5, 2], "nice": false, "zero": false}, "axis": null},
    "y": {"field": "v", "type": "quantitative", "scale": {"domain": [0, 7], "nice": false, "zero": false}, "axis": null},
    "text": {"field": "subi"},
    "color": {"field": "series", "type": "nominal", "legend": null}}},
  {"data": {"name": "ann"}, "transform": [{"filter": "datum.panel == 'B' && datum.subi != ''"}],
   "mark": {"type": "text", "align": "left", "baseline": "alphabetic", "fontSize": 15, "fontWeight": "bold", "dx": 18.5, "dy": 1},
   "encoding": {
    "x": {"field": "t", "type": "quantitative", "scale": {"domain": [0.5, 2], "nice": false, "zero": false}, "axis": null},
    "y": {"field": "v", "type": "quantitative", "scale": {"domain": [0, 7], "nice": false, "zero": false}, "axis": null},
    "text": {"field": "sub"},
    "color": {"field": "series", "type": "nominal", "legend": null}}},
  {"data": {"values": [{"t": 1.252, "v": 7, "label": "In vivo uncertainty"}]},
   "mark": {"type": "text", "align": "center", "baseline": "alphabetic", "dy": -55, "fontSize": 23, "fontWeight": "bold", "fontStyle": "italic", "color": "#000000"},
   "encoding": {
    "x": {"field": "t", "type": "quantitative", "scale": {"domain": [0.5, 2], "nice": false, "zero": false}, "axis": null},
    "y": {"field": "v", "type": "quantitative", "scale": {"domain": [0, 7], "nice": false, "zero": false}, "axis": null},
    "text": {"field": "label"}}},
  {"data": {"values": [{"t": 0.5, "v": 7, "label": "(B)"}]},
   "mark": {"type": "text", "align": "left", "baseline": "alphabetic", "dx": -58, "dy": 20, "fontSize": 27, "color": "#111111"},
   "encoding": {
    "x": {"field": "t", "type": "quantitative", "scale": {"domain": [0.5, 2], "nice": false, "zero": false}, "axis": null},
    "y": {"field": "v", "type": "quantitative", "scale": {"domain": [0, 7], "nice": false, "zero": false}, "axis": null},
    "text": {"field": "label"}}},
  {"data": {"values": [{"t": 0.5, "v": 0}]},
   "mark": {"type": "point", "opacity": 0},
   "encoding": {
    "x": {"field": "t", "type": "quantitative", "scale": {"domain": [0.5, 2], "nice": false, "zero": false}, "axis": {"orient": "top", "labels": false, "title": null, "values": [0.5, 0.8, 1.1, 1.4, 1.7, 2]}},
    "y": {"field": "v", "type": "quantitative", "scale": {"domain": [0, 7], "nice": false, "zero": false}, "axis": {"orient": "right", "labels": false, "title": null, "values": [0, 1, 2, 3, 4, 5, 6, 7]}}}}
 ]
},
{
 "width": 411, "height": 345,
 "resolve": {"axis": {"x": "independent", "y": "independent"}},
 "layer": [
  {"data": {"name": "curves"}, "transform": [{"filter": "datum.panel == 'A'"}],
   "mark": {"type": "line", "strokeWidth": 3.2, "strokeJoin": "round", "strokeCap": "round", "opacity": 0.38},
   "encoding": {
    "x": {"field": "t", "type": "quantitative", "scale": {"domain": [0.5, 2], "nice": false, "zero": false}, "axis": {"values": [0.5, 0.8, 1.1, 1.4, 1.7, 2], "format": ".1~f", "labelPadding": 11, "labelFlush": false, "labelOverlap": false, "title": null}},
    "y": {"field": "v", "type": "quantitative", "scale": {"domain": [0, 7], "nice": false, "zero": false}, "axis": {"values": [0, 1, 2, 3, 4, 5, 6, 7], "labelPadding": 15, "title": "SD (mL/100g/min)", "titlePadding": 16}},
    "color": {"field": "series", "type": "nominal", "scale": {"domain": ["Single-PLD", "Seq", "Had_free", "Had_T1", "Had_fixed", "Hyb_T1", "Hyb_fixed"], "range": ["#e3262b", "#4a8cc8", "#52ad48", "#d6cd6c", "#ff8c1a", "#f07cc0", "#a65a2e"]}, "legend": null}}},
  {"data": {"name": "curves"}, "transform": [{"filter": "datum.panel == 'C'"}],
   "mark": {"type": "line", "strokeWidth": 3.2, "strokeJoin": "round", "strokeCap": "round"},
   "encoding": {
    "x": {"field": "t", "type": "quantitative", "scale": {"domain": [0.5, 2], "nice": false, "zero": false}, "axis": null},
    "y": {"field": "v", "type": "quantitative", "scale": {"domain": [0, 7], "nice": false, "zero": false}, "axis": null},
    "color": {"field": "series", "type": "nominal", "legend": null}}},
  {"data": {"name": "arrows"}, "transform": [{"filter": "datum.panel == 'C'"}],
   "mark": {"type": "rule", "strokeWidth": 2},
   "encoding": {
    "x": {"field": "t1", "type": "quantitative", "scale": {"domain": [0.5, 2], "nice": false, "zero": false}, "axis": null},
    "y": {"field": "v1", "type": "quantitative", "scale": {"domain": [0, 7], "nice": false, "zero": false}, "axis": null},
    "x2": {"field": "t2"}, "y2": {"field": "v2"},
    "color": {"field": "series", "type": "nominal", "legend": null}}},
  {"data": {"name": "arrows"}, "transform": [{"filter": "datum.panel == 'C' && datum.dir == 'up'"}],
   "mark": {"type": "point", "shape": "M0,0L0.75,2L-0.75,2Z", "size": 225, "filled": true, "opacity": 1, "angle": 0},
   "encoding": {
    "x": {"field": "t2", "type": "quantitative", "scale": {"domain": [0.5, 2], "nice": false, "zero": false}, "axis": null},
    "y": {"field": "v2", "type": "quantitative", "scale": {"domain": [0, 7], "nice": false, "zero": false}, "axis": null},
    "color": {"field": "series", "type": "nominal", "legend": null}}},
  {"data": {"name": "ann"}, "transform": [{"filter": "datum.panel == 'C'"}],
   "mark": {"type": "text", "align": "right", "baseline": "alphabetic", "fontSize": 22, "fontWeight": "bold"},
   "encoding": {
    "x": {"field": "t", "type": "quantitative", "scale": {"domain": [0.5, 2], "nice": false, "zero": false}, "axis": null},
    "y": {"field": "v", "type": "quantitative", "scale": {"domain": [0, 7], "nice": false, "zero": false}, "axis": null},
    "text": {"field": "main"},
    "color": {"field": "series", "type": "nominal", "legend": null}}},
  {"data": {"name": "ann"}, "transform": [{"filter": "datum.panel == 'C' && datum.subi == '' && datum.sub != ''"}],
   "mark": {"type": "text", "align": "left", "baseline": "alphabetic", "fontSize": 15, "fontWeight": "bold", "dx": 1, "dy": 1},
   "encoding": {
    "x": {"field": "t", "type": "quantitative", "scale": {"domain": [0.5, 2], "nice": false, "zero": false}, "axis": null},
    "y": {"field": "v", "type": "quantitative", "scale": {"domain": [0, 7], "nice": false, "zero": false}, "axis": null},
    "text": {"field": "sub"},
    "color": {"field": "series", "type": "nominal", "legend": null}}},
  {"data": {"name": "ann"}, "transform": [{"filter": "datum.panel == 'C' && datum.subi != ''"}],
   "mark": {"type": "text", "align": "left", "baseline": "alphabetic", "fontSize": 15, "fontWeight": "bold", "fontStyle": "italic", "dx": 1, "dy": 1},
   "encoding": {
    "x": {"field": "t", "type": "quantitative", "scale": {"domain": [0.5, 2], "nice": false, "zero": false}, "axis": null},
    "y": {"field": "v", "type": "quantitative", "scale": {"domain": [0, 7], "nice": false, "zero": false}, "axis": null},
    "text": {"field": "subi"},
    "color": {"field": "series", "type": "nominal", "legend": null}}},
  {"data": {"name": "ann"}, "transform": [{"filter": "datum.panel == 'C' && datum.subi != ''"}],
   "mark": {"type": "text", "align": "left", "baseline": "alphabetic", "fontSize": 15, "fontWeight": "bold", "dx": 18.5, "dy": 1},
   "encoding": {
    "x": {"field": "t", "type": "quantitative", "scale": {"domain": [0.5, 2], "nice": false, "zero": false}, "axis": null},
    "y": {"field": "v", "type": "quantitative", "scale": {"domain": [0, 7], "nice": false, "zero": false}, "axis": null},
    "text": {"field": "sub"},
    "color": {"field": "series", "type": "nominal", "legend": null}}},
  {"data": {"values": [{"t": 0.5, "v": 7, "label": "Hybrid protocols"}]},
   "mark": {"type": "text", "align": "left", "baseline": "alphabetic", "dx": -60.7, "dy": -23, "fontSize": 21, "fontWeight": "bold", "color": "#000000"},
   "encoding": {
    "x": {"field": "t", "type": "quantitative", "scale": {"domain": [0.5, 2], "nice": false, "zero": false}, "axis": null},
    "y": {"field": "v", "type": "quantitative", "scale": {"domain": [0, 7], "nice": false, "zero": false}, "axis": null},
    "text": {"field": "label"}}},
  {"data": {"values": [{"t": 0.5, "v": 7, "label": "(C)"}]},
   "mark": {"type": "text", "align": "left", "baseline": "alphabetic", "dx": -57.7, "dy": 16, "fontSize": 27, "color": "#111111"},
   "encoding": {
    "x": {"field": "t", "type": "quantitative", "scale": {"domain": [0.5, 2], "nice": false, "zero": false}, "axis": null},
    "y": {"field": "v", "type": "quantitative", "scale": {"domain": [0, 7], "nice": false, "zero": false}, "axis": null},
    "text": {"field": "label"}}},
  {"data": {"values": [{"t": 0.5, "v": 0}]},
   "mark": {"type": "point", "opacity": 0},
   "encoding": {
    "x": {"field": "t", "type": "quantitative", "scale": {"domain": [0.5, 2], "nice": false, "zero": false}, "axis": {"orient": "top", "labels": false, "title": null, "values": [0.5, 0.8, 1.1, 1.4, 1.7, 2]}},
    "y": {"field": "v", "type": "quantitative", "scale": {"domain": [0, 7], "nice": false, "zero": false}, "axis": {"orient": "right", "labels": false, "title": null, "values": [0, 1, 2, 3, 4, 5, 6, 7]}}}}
 ]
},
{
 "width": 411, "height": 345,
 "resolve": {"axis": {"x": "independent", "y": "independent"}},
 "layer": [
  {"data": {"name": "curves"}, "transform": [{"filter": "datum.panel == 'B'"}],
   "mark": {"type": "line", "strokeWidth": 3.2, "strokeJoin": "round", "strokeCap": "round", "opacity": 0.38},
   "encoding": {
    "x": {"field": "t", "type": "quantitative", "scale": {"domain": [0.5, 2], "nice": false, "zero": false}, "axis": {"values": [0.5, 0.8, 1.1, 1.4, 1.7, 2], "format": ".1~f", "labelPadding": 11, "labelFlush": false, "labelOverlap": false, "labelAlign": {"condition": {"test": "datum.value == 2", "value": "right"}, "value": "center"}, "title": null}},
    "y": {"field": "v", "type": "quantitative", "scale": {"domain": [0, 7], "nice": false, "zero": false}, "axis": {"values": [0, 1, 2, 3, 4, 5, 6, 7], "labelPadding": 15, "title": null}},
    "color": {"field": "series", "type": "nominal", "scale": {"domain": ["Single-PLD", "Seq", "Had_free", "Had_T1", "Had_fixed", "Hyb_T1", "Hyb_fixed"], "range": ["#e3262b", "#4a8cc8", "#52ad48", "#d6cd6c", "#ff8c1a", "#f07cc0", "#a65a2e"]}, "legend": null}}},
  {"data": {"name": "curves"}, "transform": [{"filter": "datum.panel == 'D'"}],
   "mark": {"type": "line", "strokeWidth": 3.2, "strokeJoin": "round", "strokeCap": "round"},
   "encoding": {
    "x": {"field": "t", "type": "quantitative", "scale": {"domain": [0.5, 2], "nice": false, "zero": false}, "axis": null},
    "y": {"field": "v", "type": "quantitative", "scale": {"domain": [0, 7], "nice": false, "zero": false}, "axis": null},
    "color": {"field": "series", "type": "nominal", "legend": null}}},
  {"data": {"name": "arrows"}, "transform": [{"filter": "datum.panel == 'D'"}],
   "mark": {"type": "rule", "strokeWidth": 2},
   "encoding": {
    "x": {"field": "t1", "type": "quantitative", "scale": {"domain": [0.5, 2], "nice": false, "zero": false}, "axis": null},
    "y": {"field": "v1", "type": "quantitative", "scale": {"domain": [0, 7], "nice": false, "zero": false}, "axis": null},
    "x2": {"field": "t2"}, "y2": {"field": "v2"},
    "color": {"field": "series", "type": "nominal", "legend": null}}},
  {"data": {"name": "arrows"}, "transform": [{"filter": "datum.panel == 'D' && datum.dir == 'up'"}],
   "mark": {"type": "point", "shape": "M0,0L0.75,2L-0.75,2Z", "size": 225, "filled": true, "opacity": 1, "angle": 0},
   "encoding": {
    "x": {"field": "t2", "type": "quantitative", "scale": {"domain": [0.5, 2], "nice": false, "zero": false}, "axis": null},
    "y": {"field": "v2", "type": "quantitative", "scale": {"domain": [0, 7], "nice": false, "zero": false}, "axis": null},
    "color": {"field": "series", "type": "nominal", "legend": null}}},
  {"data": {"name": "ann"}, "transform": [{"filter": "datum.panel == 'D'"}],
   "mark": {"type": "text", "align": "right", "baseline": "alphabetic", "fontSize": 22, "fontWeight": "bold"},
   "encoding": {
    "x": {"field": "t", "type": "quantitative", "scale": {"domain": [0.5, 2], "nice": false, "zero": false}, "axis": null},
    "y": {"field": "v", "type": "quantitative", "scale": {"domain": [0, 7], "nice": false, "zero": false}, "axis": null},
    "text": {"field": "main"},
    "color": {"field": "series", "type": "nominal", "legend": null}}},
  {"data": {"name": "ann"}, "transform": [{"filter": "datum.panel == 'D' && datum.subi == '' && datum.sub != ''"}],
   "mark": {"type": "text", "align": "left", "baseline": "alphabetic", "fontSize": 15, "fontWeight": "bold", "dx": 1, "dy": 1},
   "encoding": {
    "x": {"field": "t", "type": "quantitative", "scale": {"domain": [0.5, 2], "nice": false, "zero": false}, "axis": null},
    "y": {"field": "v", "type": "quantitative", "scale": {"domain": [0, 7], "nice": false, "zero": false}, "axis": null},
    "text": {"field": "sub"},
    "color": {"field": "series", "type": "nominal", "legend": null}}},
  {"data": {"name": "ann"}, "transform": [{"filter": "datum.panel == 'D' && datum.subi != ''"}],
   "mark": {"type": "text", "align": "left", "baseline": "alphabetic", "fontSize": 15, "fontWeight": "bold", "fontStyle": "italic", "dx": 1, "dy": 1},
   "encoding": {
    "x": {"field": "t", "type": "quantitative", "scale": {"domain": [0.5, 2], "nice": false, "zero": false}, "axis": null},
    "y": {"field": "v", "type": "quantitative", "scale": {"domain": [0, 7], "nice": false, "zero": false}, "axis": null},
    "text": {"field": "subi"},
    "color": {"field": "series", "type": "nominal", "legend": null}}},
  {"data": {"name": "ann"}, "transform": [{"filter": "datum.panel == 'D' && datum.subi != ''"}],
   "mark": {"type": "text", "align": "left", "baseline": "alphabetic", "fontSize": 15, "fontWeight": "bold", "dx": 18.5, "dy": 1},
   "encoding": {
    "x": {"field": "t", "type": "quantitative", "scale": {"domain": [0.5, 2], "nice": false, "zero": false}, "axis": null},
    "y": {"field": "v", "type": "quantitative", "scale": {"domain": [0, 7], "nice": false, "zero": false}, "axis": null},
    "text": {"field": "sub"},
    "color": {"field": "series", "type": "nominal", "legend": null}}},
  {"data": {"values": [{"t": 0.5, "v": 7, "label": "(D)"}]},
   "mark": {"type": "text", "align": "left", "baseline": "alphabetic", "dx": -58, "dy": 16, "fontSize": 27, "color": "#111111"},
   "encoding": {
    "x": {"field": "t", "type": "quantitative", "scale": {"domain": [0.5, 2], "nice": false, "zero": false}, "axis": null},
    "y": {"field": "v", "type": "quantitative", "scale": {"domain": [0, 7], "nice": false, "zero": false}, "axis": null},
    "text": {"field": "label"}}},
  {"data": {"values": [{"t": 0.5, "v": 0}]},
   "mark": {"type": "point", "opacity": 0},
   "encoding": {
    "x": {"field": "t", "type": "quantitative", "scale": {"domain": [0.5, 2], "nice": false, "zero": false}, "axis": {"orient": "top", "labels": false, "title": null, "values": [0.5, 0.8, 1.1, 1.4, 1.7, 2]}},
    "y": {"field": "v", "type": "quantitative", "scale": {"domain": [0, 7], "nice": false, "zero": false}, "axis": {"orient": "right", "labels": false, "title": null, "values": [0, 1, 2, 3, 4, 5, 6, 7]}}}}
 ]
}
]
}
